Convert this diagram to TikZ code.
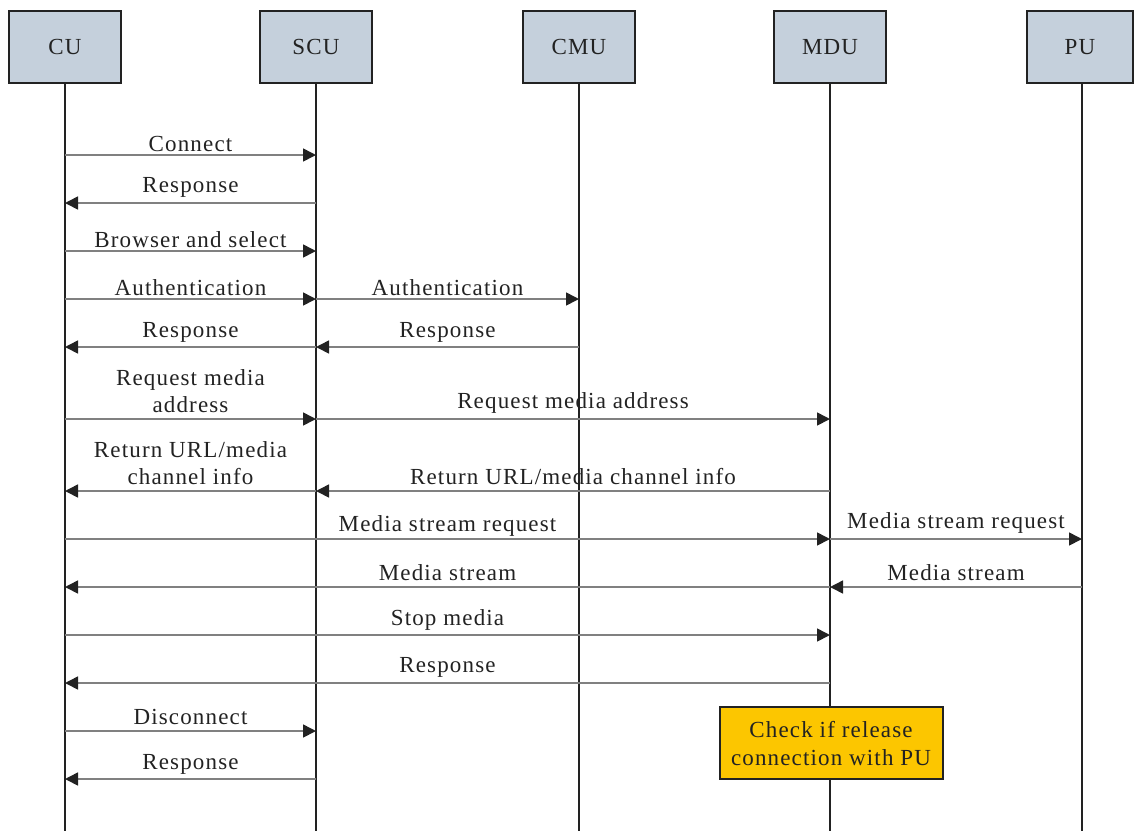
\documentclass[tikz,border=0pt]{standalone}
\usepackage{fontspec}
\setmainfont{Liberation Serif}[LetterSpace=5]
\usetikzlibrary{arrows.meta}
\definecolor{boxfill}{HTML}{C5D0DC}
\definecolor{ink}{HTML}{222222}
\definecolor{msggray}{HTML}{808080}
\definecolor{note}{HTML}{FCC600}
\tikzset{
  actor/.style={draw=ink, line width=2pt, fill=boxfill, minimum width=112pt, minimum height=72pt, inner sep=0pt, text=ink},
  life/.style={draw=ink, line width=2pt},
  msg/.style={draw=msggray, line width=1.6pt, -{Triangle[length=13pt,width=13pt,color=ink]}},
  lbl/.style={anchor=south, inner sep=0pt, text depth=0pt, text=ink, align=center, font=\fontsize{23}{27}\selectfont},
  notebox/.style={draw=ink, line width=2pt, fill=note, minimum width=223pt, minimum height=72pt, inner sep=0pt, align=center, text=ink, font=\fontsize{23}{28}\selectfont}
}
\begin{document}
\begin{tikzpicture}[x=1pt,y=-1pt, font=\fontsize{23}{27}\selectfont]
\useasboundingbox (0,0) rectangle (1134,831);
\node[actor] (cu)  at (65,47)  {CU};
\node[actor] (scu) at (316,47) {SCU};
\node[actor] (cmu) at (579,47) {CMU};
\node[actor] (mdu) at (830,47) {MDU};
\node[actor, minimum width=106pt] (pu)  at (1080,47) {PU};
\coordinate (cub) at (65,831);
\coordinate (scub) at (316,831);
\coordinate (cmub) at (579,831);
\coordinate (mdub) at (830,831);
\coordinate (pub) at (1082,831);
\draw[life] (cu.south) -- (cub);
\draw[life] (scu.south) -- (scub);
\draw[life] (cmu.south) -- (cmub);
\draw[life] (mdu.south) -- (mdub);
\draw[life] (pu.south -| pub) -- (pub);

% messages
\draw[msg] (cub |- 0,155) -- node[lbl, yshift=3pt]{Connect} (scub |- 0,155);
\draw[msg] (scub |- 0,203) -- node[lbl, yshift=10pt]{Response} (cub |- 0,203);
\draw[msg] (cub |- 0,251) -- node[lbl, yshift=3pt]{Browser and select} (scub |- 0,251);
\draw[msg] (cub |- 0,299) -- node[lbl, yshift=3pt]{Authentication} (scub |- 0,299);
\draw[msg] (scub |- 0,299) -- node[lbl, yshift=3pt]{Authentication} (cmub |- 0,299);
\draw[msg] (cmub |- 0,347) -- node[lbl, yshift=9pt]{Response} (scub |- 0,347);
\draw[msg] (scub |- 0,347) -- node[lbl, yshift=9pt]{Response} (cub |- 0,347);
\draw[msg] (cub |- 0,419) -- node[lbl, yshift=6pt]{Request media\\address} (scub |- 0,419);
\draw[msg] (scub |- 0,419) -- node[lbl, yshift=10pt]{Request media address} (mdub |- 0,419);
\draw[msg] (mdub |- 0,491) -- node[lbl, yshift=6pt]{Return URL/media channel info} (scub |- 0,491);
\draw[msg] (scub |- 0,491) -- node[lbl, yshift=6pt]{Return URL/media\\channel info} (cub |- 0,491);
\draw[msg] (cub |- 0,539) -- node[lbl, yshift=7pt]{Media stream request} (mdub |- 0,539);
\draw[msg] (mdub |- 0,539) -- node[lbl, yshift=10pt]{Media stream request} (pub |- 0,539);
\draw[msg] (pub |- 0,587) -- node[lbl, yshift=6pt]{Media stream} (mdub |- 0,587);
\draw[msg] (mdub |- 0,587) -- node[lbl, yshift=6pt]{Media stream} (cub |- 0,587);
\draw[msg] (cub |- 0,635) -- node[lbl, yshift=9pt]{Stop media} (mdub |- 0,635);
\draw[msg] (mdub |- 0,683) -- node[lbl, yshift=10pt]{Response} (cub |- 0,683);
\draw[msg] (cub |- 0,731) -- node[lbl, yshift=6pt]{Disconnect} (scub |- 0,731);
\draw[msg] (scub |- 0,779) -- node[lbl, yshift=9pt]{Response} (cub |- 0,779);

\node[notebox] (chk) at (831,743) {Check if release\\connection with PU};
\end{tikzpicture}
\end{document}
